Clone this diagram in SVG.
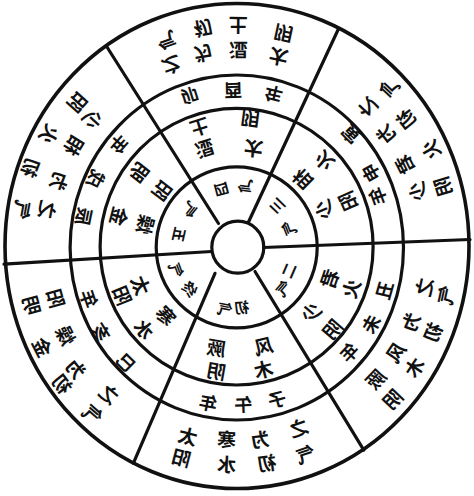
<svg xmlns="http://www.w3.org/2000/svg" width="474" height="496" viewBox="0 0 474 496">
<style>
.ring{fill:none;stroke:#111;stroke-width:3.2}
.div{stroke:#111;stroke-width:3.2;stroke-linecap:round}
text{font-family:"Noto Sans CJK SC","Noto Sans CJK JP",sans-serif;font-weight:700;fill:#111;text-anchor:middle;dominant-baseline:central}
.t1{font-size:19px}.t2{font-size:18px}.t3{font-size:19px}.t4{font-size:15px}
</style>
<rect width="474" height="496" fill="#fff"/>
<g id="rings">
<ellipse class="ring" cx="237" cy="246" rx="232" ry="242.5" style="stroke-width:3.6"/>
<ellipse class="ring" cx="236.8" cy="247.5" rx="166.7" ry="172.5"/>
<ellipse class="ring" cx="236.6" cy="246.7" rx="136.5" ry="138.3"/>
<circle class="ring" cx="236.7" cy="247.3" r="80.5"/>
<circle class="ring" cx="237.8" cy="247.2" r="26"/>
</g>
<g id="connectors">
<line class="div" x1="4" y1="264.2" x2="211.5" y2="251.5"/>
<line class="div" x1="263.5" y1="247.5" x2="470" y2="239.5"/>
<line class="div" x1="107" y1="47" x2="218.5" y2="223.5"/>
<line class="div" x1="255" y1="271.5" x2="363.8" y2="450.1"/>
<line class="div" x1="338.3" y1="29.3" x2="248.5" y2="222"/>
<line class="div" x1="215" y1="273.3" x2="133.3" y2="463.3"/>
</g>
<g id="sector-zi-wu">
<text class="t4" transform="translate(241.7 306.7) rotate(-4.6) scale(-1 1)">初</text>
<text class="t4" transform="translate(225 308.3) rotate(11.3) scale(-1 1)">气</text>
<text class="t3" transform="translate(216.7 346.7) rotate(10) scale(-1 1)">厥</text>
<text class="t3" transform="translate(216.7 370) rotate(10) scale(-1 1)">阴</text>
<text class="t3" transform="translate(263.3 345) rotate(-14) scale(-1 1)">风</text>
<text class="t3" transform="translate(263.3 368.3) rotate(-14) scale(-1 1)">木</text>
<text class="t2" transform="translate(276.7 398.3) rotate(-14.8) scale(-1 1)">子</text>
<text class="t2" transform="translate(243.3 403.3) rotate(-2.3) scale(-1 1)">午</text>
<text class="t2" transform="translate(208.3 401.7) rotate(10.6) scale(-1 1)">年</text>
<text class="t1" transform="translate(188.3 435) rotate(14.7) scale(-1 1)">太</text>
<text class="t1" transform="translate(181.7 456.7) rotate(14.7) scale(-1 1)">阳</text>
<text class="t1" transform="translate(226.7 438.3) rotate(2.9) scale(-1 1)">寒</text>
<text class="t1" transform="translate(226.7 463.3) rotate(2.9) scale(-1 1)">水</text>
<text class="t1" transform="translate(260 438.3) rotate(-7.4) scale(-1 1)">为</text>
<text class="t1" transform="translate(266.7 461.7) rotate(-7.4) scale(-1 1)">初</text>
<text class="t1" transform="translate(298.3 426.7) rotate(-18.6) scale(-1 1)">之</text>
<text class="t1" transform="translate(305 453.3) rotate(-18.6) scale(-1 1)">气</text>
</g>
<g id="sector-chou-wei">
<text class="t4" transform="translate(288 270) rotate(-66.7) scale(-1 1)">二</text>
<text class="t4" transform="translate(283 288) rotate(-49) scale(-1 1)">气</text>
<text class="t3" transform="translate(328.3 278.3) rotate(-71) scale(-1 1)">君</text>
<text class="t3" transform="translate(350 288.3) rotate(-71) scale(-1 1)">火</text>
<text class="t3" transform="translate(310 311.7) rotate(-49.3) scale(-1 1)">少</text>
<text class="t3" transform="translate(331.7 328.3) rotate(-49.3) scale(-1 1)">阴</text>
<text class="t2" transform="translate(383.3 290) rotate(-74) scale(-1 1)">丑</text>
<text class="t2" transform="translate(370 323.3) rotate(-60.5) scale(-1 1)">未</text>
<text class="t2" transform="translate(348.3 351.7) rotate(-47) scale(-1 1)">年</text>
<text class="t1" transform="translate(375 378.3) rotate(-46.5) scale(-1 1)">厥</text>
<text class="t1" transform="translate(391.7 398.3) rotate(-46.5) scale(-1 1)">阴</text>
<text class="t1" transform="translate(395 351.7) rotate(-56.4) scale(-1 1)">风</text>
<text class="t1" transform="translate(413.3 366.7) rotate(-56.4) scale(-1 1)">木</text>
<text class="t1" transform="translate(410 321.7) rotate(-66.8) scale(-1 1)">为</text>
<text class="t1" transform="translate(431.7 331.7) rotate(-66.8) scale(-1 1)">初</text>
<text class="t1" transform="translate(423.3 286.7) rotate(-77.8) scale(-1 1)">之</text>
<text class="t1" transform="translate(445 295) rotate(-77.8) scale(-1 1)">气</text>
</g>
<g id="sector-yin-shen">
<text class="t4" transform="translate(276.7 206.7) rotate(-136) scale(-1 1)">三</text>
<text class="t4" transform="translate(288.3 228.3) rotate(-111) scale(-1 1)">气</text>
<text class="t3" transform="translate(301.7 180) rotate(-135.7) scale(-1 1)">相</text>
<text class="t3" transform="translate(323.3 161.7) rotate(-135.7) scale(-1 1)">火</text>
<text class="t3" transform="translate(323.3 210) rotate(-113.4) scale(-1 1)">少</text>
<text class="t3" transform="translate(346.7 201.7) rotate(-113.4) scale(-1 1)">阳</text>
<text class="t2" transform="translate(350 135) rotate(-135) scale(-1 1)">寅</text>
<text class="t2" transform="translate(370 173.3) rotate(-119.3) scale(-1 1)">申</text>
<text class="t2" transform="translate(376.7 196.7) rotate(-110.2) scale(-1 1)">年</text>
<text class="t1" transform="translate(416.7 191.7) rotate(-107) scale(-1 1)">少</text>
<text class="t1" transform="translate(441.7 186.7) rotate(-107) scale(-1 1)">阴</text>
<text class="t1" transform="translate(403.3 165) rotate(-116.7) scale(-1 1)">君</text>
<text class="t1" transform="translate(430 150) rotate(-116.7) scale(-1 1)">火</text>
<text class="t1" transform="translate(385 135) rotate(-127.3) scale(-1 1)">为</text>
<text class="t1" transform="translate(405 120) rotate(-127.3) scale(-1 1)">初</text>
<text class="t1" transform="translate(366.7 108.3) rotate(-136.8) scale(-1 1)">之</text>
<text class="t1" transform="translate(388.3 88.3) rotate(-136.8) scale(-1 1)">气</text>
</g>
<g id="sector-mao-you">
<text class="t4" transform="translate(221.7 190) rotate(-194.8) scale(-1 1)">四</text>
<text class="t4" transform="translate(245 186.7) rotate(-172.6) scale(-1 1)">气</text>
<text class="t3" transform="translate(253.3 150) rotate(-172.5) scale(-1 1)">太</text>
<text class="t3" transform="translate(250 120) rotate(-172.5) scale(-1 1)">阴</text>
<text class="t3" transform="translate(205 150) rotate(-197.6) scale(-1 1)">湿</text>
<text class="t3" transform="translate(200 128.3) rotate(-197.6) scale(-1 1)">土</text>
<text class="t2" transform="translate(190 96.7) rotate(-197.3) scale(-1 1)">卯</text>
<text class="t2" transform="translate(233.3 91.7) rotate(-181.4) scale(-1 1)">酉</text>
<text class="t2" transform="translate(273.3 95) rotate(-166.7) scale(-1 1)">年</text>
<text class="t1" transform="translate(278.3 58) rotate(-167.7) scale(-1 1)">太</text>
<text class="t1" transform="translate(283.3 34.7) rotate(-167.7) scale(-1 1)">阴</text>
<text class="t1" transform="translate(238.3 51.3) rotate(-179.6) scale(-1 1)">湿</text>
<text class="t1" transform="translate(238.3 26.3) rotate(-179.6) scale(-1 1)">土</text>
<text class="t1" transform="translate(203.3 54.7) rotate(-189.4) scale(-1 1)">为</text>
<text class="t1" transform="translate(203.3 29.7) rotate(-189.4) scale(-1 1)">初</text>
<text class="t1" transform="translate(171.7 66.3) rotate(-199.3) scale(-1 1)">之</text>
<text class="t1" transform="translate(166.7 41.3) rotate(-199.3) scale(-1 1)">气</text>
</g>
<g id="sector-chen-xu">
<text class="t4" transform="translate(180 235) rotate(102.8) scale(-1 1)">五</text>
<text class="t4" transform="translate(190 210) rotate(129) scale(-1 1)">气</text>
<text class="t3" transform="translate(163.3 191.7) rotate(127.5) scale(-1 1)">阳</text>
<text class="t3" transform="translate(140 173.3) rotate(127.5) scale(-1 1)">明</text>
<text class="t3" transform="translate(146.7 225) rotate(104.6) scale(-1 1)">燥</text>
<text class="t3" transform="translate(120 216.7) rotate(104.6) scale(-1 1)">金</text>
<text class="t2" transform="translate(85 216.7) rotate(101.6) scale(-1 1)">辰</text>
<text class="t2" transform="translate(96.7 180) rotate(115.9) scale(-1 1)">戌</text>
<text class="t2" transform="translate(120 145) rotate(131.4) scale(-1 1)">年</text>
<text class="t1" transform="translate(93.3 120) rotate(132) scale(-1 1)">少</text>
<text class="t1" transform="translate(78.3 103.3) rotate(132) scale(-1 1)">阳</text>
<text class="t1" transform="translate(75 146.7) rotate(121.6) scale(-1 1)">相</text>
<text class="t1" transform="translate(50 135) rotate(121.6) scale(-1 1)">火</text>
<text class="t1" transform="translate(60 181.7) rotate(110.8) scale(-1 1)">为</text>
<text class="t1" transform="translate(31.7 168.3) rotate(110.8) scale(-1 1)">初</text>
<text class="t1" transform="translate(48.3 210) rotate(100.7) scale(-1 1)">之</text>
<text class="t1" transform="translate(23.3 210) rotate(100.7) scale(-1 1)">气</text>
</g>
<g id="sector-si-hai">
<text class="t4" transform="translate(190 288.3) rotate(49.4) scale(-1 1)">终</text>
<text class="t4" transform="translate(176.7 270) rotate(70) scale(-1 1)">气</text>
<text class="t3" transform="translate(141.7 285) rotate(68) scale(-1 1)">太</text>
<text class="t3" transform="translate(123.3 295) rotate(68) scale(-1 1)">阳</text>
<text class="t3" transform="translate(166.7 315) rotate(47.7) scale(-1 1)">寒</text>
<text class="t3" transform="translate(145 328.3) rotate(47.7) scale(-1 1)">水</text>
<text class="t2" transform="translate(126.7 361.7) rotate(44.1) scale(-1 1)">巳</text>
<text class="t2" transform="translate(101.7 331.7) rotate(58.3) scale(-1 1)">亥</text>
<text class="t2" transform="translate(90 298.3) rotate(71.1) scale(-1 1)">年</text>
<text class="t1" transform="translate(57 298) rotate(74.5) scale(-1 1)">阳</text>
<text class="t1" transform="translate(33 305) rotate(74.5) scale(-1 1)">明</text>
<text class="t1" transform="translate(66.7 335) rotate(63) scale(-1 1)">燥</text>
<text class="t1" transform="translate(43.3 346.7) rotate(63) scale(-1 1)">金</text>
<text class="t1" transform="translate(76.7 368.3) rotate(52.6) scale(-1 1)">为</text>
<text class="t1" transform="translate(63.3 383.3) rotate(52.6) scale(-1 1)">初</text>
<text class="t1" transform="translate(110 393.3) rotate(41.1) scale(-1 1)">之</text>
<text class="t1" transform="translate(93.3 413.3) rotate(41.1) scale(-1 1)">气</text>
</g>
</svg>
